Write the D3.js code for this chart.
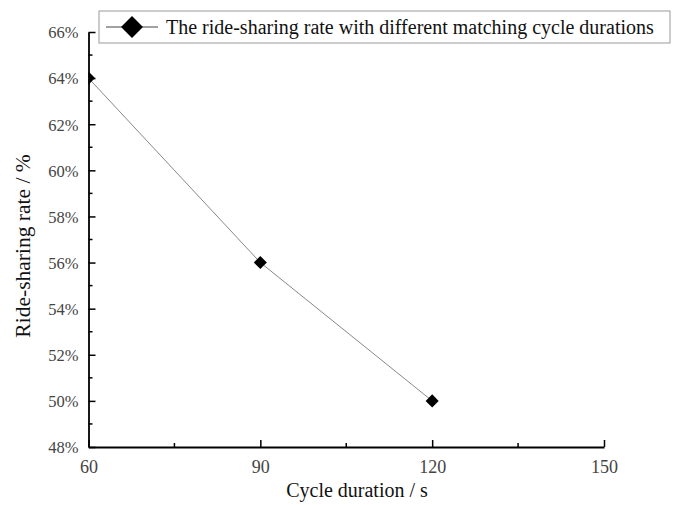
<!DOCTYPE html>
<html>
<head>
<meta charset="utf-8">
<script src="https://cdn.jsdelivr.net/npm/d3@7"></script>
<style>
  body { margin: 0; background: #fff; }
  svg { display: block; font-family: "Liberation Serif", "DejaVu Serif", serif; }
</style>
</head>
<body>
<div class="chart"></div>
<script>
// data
var cycleDurations = [60, 90, 120];
var rideSharingRates = [64, 56, 50];
var xTicks = [60, 90, 120, 150];
var yTicks = [48, 50, 52, 54, 56, 58, 60, 62, 64, 66];
var seriesName = "The ride-sharing rate with different matching cycle durations";

var svgWidth = 673;
var svgHeight = 505;
var margin = { top: 32, right: 69, bottom: 58, left: 88.5 };
var width = svgWidth - margin.left - margin.right;
var height = svgHeight - margin.top - margin.bottom;

var svg = d3.select(".chart")
  .append("svg")
  .attr("width", svgWidth)
  .attr("height", svgHeight);

var chartGroup = svg.append("g")
  .attr("transform", `translate(${margin.left}, ${margin.top})`);

var xScale = d3.scaleLinear().domain([60, 150]).range([0, width]);
var yScale = d3.scaleLinear().domain([48, 66]).range([height, 0]);

// clip so the first marker is cut by the y axis like the original
svg.append("defs").append("clipPath").attr("id", "plot-clip")
  .append("rect").attr("x", 0).attr("y", -10).attr("width", width + 10).attr("height", height + 10);

// minor ticks
var xMinor = [75, 105, 135];
var yMinor = [49, 51, 53, 55, 57, 59, 61, 63, 65];

chartGroup.selectAll(".xminor")
  .data(xMinor).enter().append("line")
  .attr("x1", d => xScale(d)).attr("x2", d => xScale(d))
  .attr("y1", height).attr("y2", height - 4)
  .attr("stroke", "#000").attr("stroke-width", 1.5);

chartGroup.selectAll(".yminor")
  .data(yMinor).enter().append("line")
  .attr("x1", 0).attr("x2", 4)
  .attr("y1", d => yScale(d)).attr("y2", d => yScale(d))
  .attr("stroke", "#000").attr("stroke-width", 1.5);

// axes, ticks pointing inward
var bottomAxis = d3.axisBottom(xScale).tickValues(xTicks).tickSizeInner(-7).tickSizeOuter(0).tickPadding(13);
var leftAxis = d3.axisLeft(yScale).tickValues(yTicks).tickSizeInner(-7).tickSizeOuter(0).tickPadding(10)
  .tickFormat(d => d + "%");

var xAxis = chartGroup.append("g")
  .attr("transform", `translate(0, ${height})`)
  .call(bottomAxis);

var yAxis = chartGroup.append("g")
  .call(leftAxis);

[xAxis, yAxis].forEach(function(ax) {
  ax.select(".domain").attr("stroke", "#000").attr("stroke-width", 1.8);
  ax.selectAll(".tick line").attr("stroke", "#000").attr("stroke-width", 1.5);
  ax.selectAll(".tick text")
    .attr("fill", "#444")
    .style("font-family", "'Liberation Serif', serif");
});
xAxis.selectAll(".tick text").style("font-size", "18px");
yAxis.selectAll(".tick text").style("font-size", "16.5px").attr("dy", "0.35em");

// series line
var line = d3.line()
  .x((d, i) => xScale(cycleDurations[i]))
  .y(d => yScale(d));

var series = chartGroup.append("g").attr("clip-path", "url(#plot-clip)");

series.append("path")
  .datum(rideSharingRates)
  .attr("d", line)
  .attr("fill", "none")
  .attr("stroke", "#888")
  .attr("stroke-width", 1);

var diamond = d3.symbol().type(d3.symbolSquare).size(85);

series.selectAll(".marker")
  .data(rideSharingRates).enter().append("path")
  .attr("d", diamond)
  .attr("transform", (d, i) => `translate(${xScale(cycleDurations[i])}, ${yScale(d)}) rotate(45)`)
  .attr("fill", "#000");

// axis titles
svg.append("text")
  .attr("x", 357)
  .attr("y", 497)
  .attr("text-anchor", "middle")
  .style("font-size", "20px")
  .attr("fill", "#111")
  .text("Cycle duration / s");

svg.append("text")
  .attr("transform", "translate(30, 246) rotate(-90)")
  .attr("text-anchor", "middle")
  .style("font-size", "21.5px")
  .attr("fill", "#111")
  .text("Ride-sharing rate / %");

// legend
var legend = svg.append("g");
legend.append("rect")
  .attr("x", 99).attr("y", 11)
  .attr("width", 571).attr("height", 32)
  .attr("fill", "#fff")
  .attr("stroke", "#aaa")
  .attr("stroke-width", 1.2);

legend.append("line")
  .attr("x1", 106).attr("x2", 158)
  .attr("y1", 27).attr("y2", 27)
  .attr("stroke", "#444").attr("stroke-width", 1);

legend.append("path")
  .attr("d", d3.symbol().type(d3.symbolSquare).size(240))
  .attr("transform", "translate(132, 27) rotate(45)")
  .attr("fill", "#000");

legend.append("text")
  .attr("x", 166)
  .attr("y", 33.5)
  .style("font-size", "20px")
  .attr("fill", "#111")
  .text(seriesName);
</script>
</body>
</html>
